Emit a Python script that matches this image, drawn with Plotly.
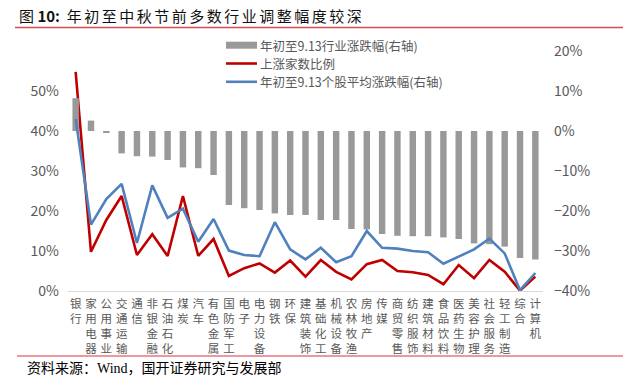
import plotly.graph_objects as go

categories = ["银行", "家用电器", "公用事业", "交通运输", "通信", "非银金融", "石油石化", "煤炭", "汽车", "有色金属",
              "国防军工", "电子", "电力设备", "钢铁", "环保", "建筑装饰", "基础化工", "机械设备", "农林牧渔", "房地产",
              "传媒", "商贸零售", "纺织服饰", "建筑材料", "食品饮料", "医药生物", "美容护理", "社会服务", "轻工制造", "综合", "计算机"]

industry_change = [0.082, 0.026, -0.005, -0.056, -0.063, -0.064, -0.0725, -0.091, -0.093, -0.110,
                   -0.185, -0.193, -0.1975, -0.206, -0.210, -0.210, -0.2225, -0.2225, -0.245, -0.246,
                   -0.2575, -0.262, -0.263, -0.263, -0.266, -0.270, -0.281, -0.283, -0.289, -0.3175, -0.321]

up_ratio = [0.548, 0.098, 0.1775, 0.2375, 0.090, 0.142, 0.0875, 0.2375, 0.088, 0.130,
            0.0375, 0.057, 0.069, 0.046, 0.076, 0.036, 0.0775, 0.048, 0.029, 0.067,
            0.0775, 0.050, 0.047, 0.040, 0.017, 0.065, 0.032, 0.0775, 0.048, 0.001, 0.036]

stock_avg_change = [0.030, -0.234, -0.170, -0.132, -0.280, -0.136, -0.217, -0.194, -0.277, -0.220,
                    -0.299, -0.310, -0.313, -0.228, -0.296, -0.321, -0.292, -0.328, -0.313, -0.250,
                    -0.292, -0.294, -0.300, -0.303, -0.332, -0.315, -0.296, -0.269, -0.306, -0.398, -0.355]

series_names = ["年初至9.13行业涨跌幅(右轴)", "上涨家数比例", "年初至9.13个股平均涨跌幅(右轴)"]
left_ticks = [0, 0.1, 0.2, 0.3, 0.4, 0.5]
right_ticks = [-0.4, -0.3, -0.2, -0.1, 0, 0.1, 0.2]

GRAY_TXT = "#595959"
BAR_C, RED_C, BLUE_C = "#999999", "#C00000", "#4F81BD"
FONT = "Noto Sans CJK SC, Open Sans, sans-serif"

tick_text = ["<br>".join(list(c)) for c in categories]

fig = go.Figure()
fig.add_trace(go.Bar(x=categories, y=industry_change, yaxis="y2", name=series_names[0],
                     marker=dict(color=BAR_C, line=dict(width=0)), width=0.42))
fig.add_trace(go.Scatter(x=categories, y=up_ratio, yaxis="y", mode="lines", name=series_names[1],
                         line=dict(color=RED_C, width=2.6)))
fig.add_trace(go.Scatter(x=categories, y=stock_avg_change, yaxis="y2", mode="lines",
                         name=series_names[2], line=dict(color=BLUE_C, width=2.6)))

W, H = 644, 388
L, R, T, B = 68, 543, 51, 291
pw, ph = R - L, B - T

def px(x):
    return (x - L) / pw

def py(y):
    return (B - y) / ph

fig.update_layout(
    width=W, height=H,
    margin=dict(l=L, r=W - R, t=T, b=H - B, autoexpand=False),
    paper_bgcolor="white", plot_bgcolor="white",
    font=dict(family=FONT, color=GRAY_TXT, size=13),
    showlegend=False,
    xaxis=dict(type="category", tickmode="array", tickvals=categories, ticktext=tick_text,
               tickangle=0, tickfont=dict(size=11.5, color=GRAY_TXT), showline=True,
               linecolor="#D9D9D9", linewidth=1, ticks="", showgrid=False, range=[-0.5, 30.5],
               automargin=False, ticklabelstandoff=2),
    yaxis=dict(range=[0, 0.6], tickvals=left_ticks, tickformat=".0%", showgrid=False,
               zeroline=False, showline=False, ticks="", tickfont=dict(size=14, color=GRAY_TXT),
               automargin=False, ticklabelstandoff=8),
    yaxis2=dict(range=[-0.4, 0.2], tickvals=right_ticks, tickformat=".0%", overlaying="y", side="right",
                showgrid=False, zeroline=False, showline=False, ticks="", ticklabelstandoff=10,
                tickfont=dict(size=14, color=GRAY_TXT), automargin=False),
    bargap=0.5,
)

# legend drawn manually to match the compact original legend
LEG_FS = 12.5
gap = 18.3
mid = 63.5
leg_rows = [mid - gap, mid, mid + gap]
fig.add_shape(type="rect", xref="paper", yref="paper", x0=px(226), x1=px(257),
              y0=py(leg_rows[0] - 3.5), y1=py(leg_rows[0] + 3.5), fillcolor=BAR_C, line=dict(width=0))
fig.add_shape(type="line", xref="paper", yref="paper", x0=px(226), x1=px(257),
              y0=py(leg_rows[1]), y1=py(leg_rows[1]), line=dict(color=RED_C, width=2.6))
fig.add_shape(type="line", xref="paper", yref="paper", x0=px(226), x1=px(257),
              y0=py(leg_rows[2]), y1=py(leg_rows[2]), line=dict(color=BLUE_C, width=2.6))
for name, yy in zip(series_names, leg_rows):
    fig.add_annotation(xref="paper", yref="paper", x=px(259), y=py(yy), xanchor="left", yanchor="middle",
                       text=name, showarrow=False, borderpad=0,
                       font=dict(size=LEG_FS, color=GRAY_TXT, family=FONT))

title_body = "\u2006".join(list("年初至中秋节前多数行业调整幅度较深"))
fig.add_annotation(xref="paper", yref="paper", x=px(17), y=py(15), xanchor="left", yanchor="middle",
                   text="图 <b>10:</b>  " + title_body, showarrow=False,
                   font=dict(size=15, color="#111111", family=FONT))
fig.add_annotation(xref="paper", yref="paper", x=px(25), y=py(368), xanchor="left", yanchor="middle",
                   text="资料来源：Wind，国开证券研究与发展部", showarrow=False,
                   font=dict(size=14, color="black", family="Liberation Serif, Noto Sans CJK SC, serif"))
fig.add_shape(type="line", xref="paper", yref="paper", x0=px(15), x1=px(623), y0=py(27.5), y1=py(27.5),
              line=dict(color="#D84A55", width=1.5))
fig.add_shape(type="line", xref="paper", yref="paper", x0=px(17), x1=px(623), y0=py(356), y1=py(356),
              line=dict(color="#E03040", width=1.2))

fig.write_html("out.html", config={"displayModeBar": False},
               post_script="document.body.style.margin='0px';document.body.style.overflow='hidden';")
